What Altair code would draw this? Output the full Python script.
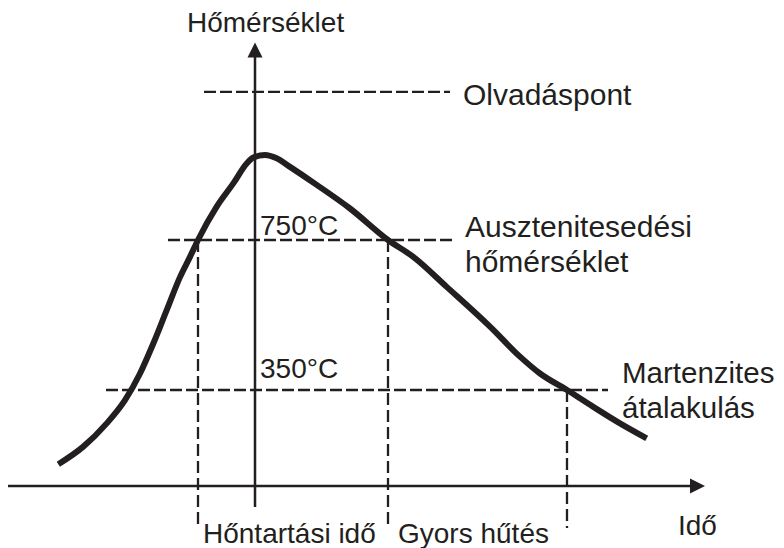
import altair as alt
import pandas as pd

INK = "#231f20"

# --- temperature curve (time in arbitrary units, temperature in °C-like schematic units)
curve_t = [-19.67, -17.17, -14.83, -13.0, -11.5, -10.17, -8.83, -7.5, -6.5, -5.7,
           -3.83, -2.17, -0.83, -0.17, 1.0, 2.17, 3.5, 6.17, 9.5, 13.3,
           15.83, 19.17, 23.5, 26.5, 28.5, 31.2, 33.83, 36.5, 39.17]
curve_T = [152, 199, 261, 323, 394, 474, 563, 651, 705, 750,
           839, 901, 954, 970, 977, 968, 945, 897, 834, 750,
           705, 625, 519, 439, 394, 350, 305, 261, 221]

# --- horizontal dashed reference lines (melting point, 750°C, 350°C)
hline_T = [1145, 750, 350]
hline_start = [-5.1, -8.7, -14.9]
hline_end = [19.5, 20.1, 35.3]

# --- vertical dashed lines (holding start, cooling start, martensite start)
vline_t = [-5.7, 13.3, 31.2]
vline_top = [750, 750, 350]
vline_bottom = [-18, -18, -18]

# --- axes
xaxis_T = 94
xaxis_start, xaxis_end = -24.7, 43.5
yaxis_t = 0
yaxis_start, yaxis_end = 38, 1238
arrow_t = [44.25, 0]
arrow_T = [94, 1256.7]

# --- labels
label_text = ["Hőmérséklet", "Olvadáspont", "750°C", "Ausztenitesedési", "hőmérséklet",
              "350°C", "Martenzites", "átalakulás", "Idő", "Hőntartási idő", "Gyors hűtés"]
label_t = [-6.8, 20.8, 0.5, 21.0, 21.0, 0.5, 36.7, 36.7, 42.3, -5.2, 14.3]
label_T = [1306, 1110, 763, 759, 665, 381, 369, 275, -37, -57, -57]
label_size = [28, 30, 28, 30, 30, 28, 29.5, 29.5, 28, 28, 28]

xs = alt.Scale(domain=[-24.7, 52.1], nice=False, zero=False)
ys = alt.Scale(domain=[-71.33, 1368.67], nice=False, zero=False)

curve_df = pd.DataFrame({"t": curve_t, "T": curve_T})
hl_df = pd.DataFrame({"T": hline_T, "t0": hline_start, "t1": hline_end})
vl_df = pd.DataFrame({"t": vline_t, "T0": vline_top, "T1": vline_bottom})
xa_df = pd.DataFrame({"T": [xaxis_T], "t0": [xaxis_start], "t1": [xaxis_end]})
ya_df = pd.DataFrame({"t": [yaxis_t], "T0": [yaxis_start], "T1": [yaxis_end]})
xarrow_df = pd.DataFrame({"t": [arrow_t[0]], "T": [arrow_T[0]]})
yarrow_df = pd.DataFrame({"t": [arrow_t[1]], "T": [arrow_T[1]]})
lab_df = pd.DataFrame({"label": label_text, "t": label_t, "T": label_T, "size": label_size})

hlines = alt.Chart(hl_df).mark_rule(color=INK, strokeWidth=2.3, strokeDash=[12, 4]).encode(
    x=alt.X("t0:Q", scale=xs, axis=None), x2="t1:Q", y=alt.Y("T:Q", scale=ys, axis=None))
vlines = alt.Chart(vl_df).mark_rule(color=INK, strokeWidth=2.3, strokeDash=[12, 5]).encode(
    x=alt.X("t:Q", scale=xs, axis=None), y=alt.Y("T0:Q", scale=ys, axis=None), y2="T1:Q")
xaxis = alt.Chart(xa_df).mark_rule(color=INK, strokeWidth=2.5).encode(
    x=alt.X("t0:Q", scale=xs, axis=None), x2="t1:Q", y=alt.Y("T:Q", scale=ys, axis=None))
yaxis = alt.Chart(ya_df).mark_rule(color=INK, strokeWidth=2.5).encode(
    x=alt.X("t:Q", scale=xs, axis=None), y=alt.Y("T0:Q", scale=ys, axis=None), y2="T1:Q")
xarrow = alt.Chart(xarrow_df).mark_point(
    shape="M -1 -1 L 1 0 L -1 1 Z", filled=True, size=225, color=INK, opacity=1).encode(
    x=alt.X("t:Q", scale=xs, axis=None), y=alt.Y("T:Q", scale=ys, axis=None))
yarrow = alt.Chart(yarrow_df).mark_point(
    shape="M -1 1 L 0 -1 L 1 1 Z", filled=True, size=225, color=INK, opacity=1).encode(
    x=alt.X("t:Q", scale=xs, axis=None), y=alt.Y("T:Q", scale=ys, axis=None))
curve = alt.Chart(curve_df).mark_line(
    color=INK, strokeWidth=6, interpolate="monotone", strokeCap="butt").encode(
    x=alt.X("t:Q", scale=xs, axis=None), y=alt.Y("T:Q", scale=ys, axis=None))
labels = alt.Chart(lab_df).mark_text(
    align="left", baseline="alphabetic", font="Liberation Sans", color=INK).encode(
    x=alt.X("t:Q", scale=xs, axis=None), y=alt.Y("T:Q", scale=ys, axis=None),
    text="label:N", size=alt.Size("size:Q", scale=None, legend=None))

chart = alt.layer(hlines, vlines, xaxis, yaxis, xarrow, yarrow, curve, labels).properties(
    width=768, height=540, autosize=alt.AutoSizeParams(type="none"), padding=0
).configure_view(strokeWidth=0)

chart.save("out.html", embed_options={"renderer": "svg", "actions": False})
